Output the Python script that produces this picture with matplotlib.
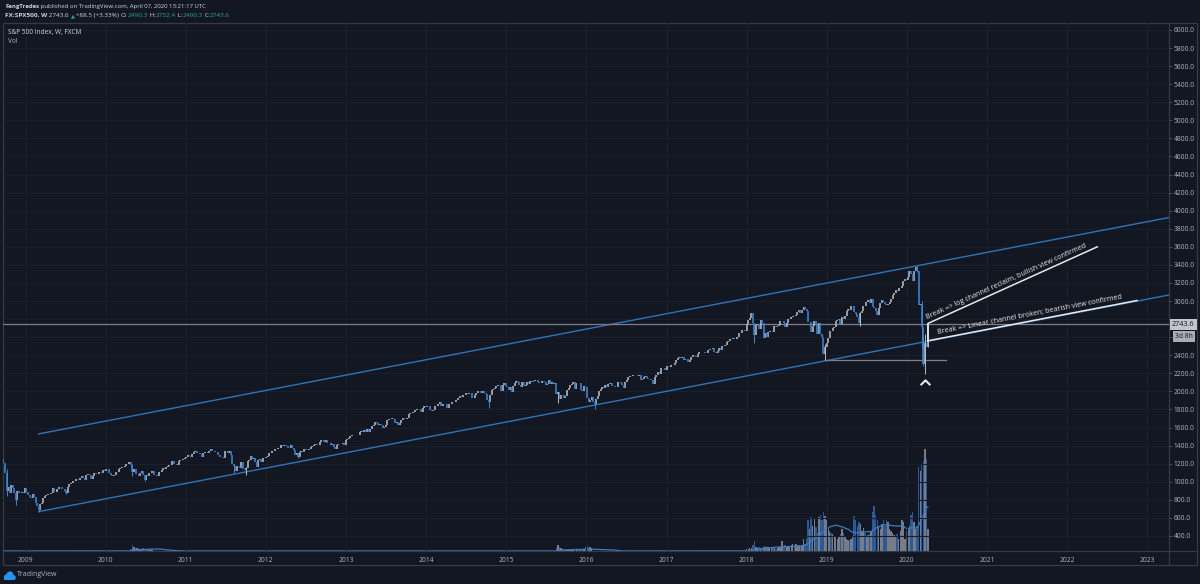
import matplotlib
matplotlib.use('Agg')
import matplotlib.pyplot as plt
import matplotlib.dates as mdates
from matplotlib.patches import Circle, Rectangle
from matplotlib.lines import Line2D
import numpy as np
import pandas as pd

# weekly closes (week ending Fridays), FX:SPX500
first_open = 1255
close_2008 = [1213, 1099, 899, 940, 877, 968, 930, 873, 800, 896, 876, 879, 887, 873]
close_2009 = [931, 890, 850, 832, 826, 869, 827, 770, 735, 683, 756, 768, 816, 842, 856, 869,
              866, 877, 929, 882, 887, 919, 940, 946, 921, 918, 896, 879, 940, 979, 987, 1010,
              1005, 1026, 1029, 1016, 1042, 1068, 1044, 1025, 1071, 1087, 1080, 1036, 1069, 1093,
              1091, 1091, 1106, 1106, 1102, 1126]
close_2010 = [1115, 1145, 1136, 1092, 1074, 1066, 1075, 1109, 1104, 1139, 1150, 1160, 1167, 1179,
              1194, 1192, 1217, 1187, 1111, 1136, 1088, 1089, 1065, 1092, 1117, 1076, 1023, 1078,
              1065, 1102, 1102, 1122, 1079, 1071, 1065, 1105, 1110, 1125, 1149, 1146, 1166, 1176,
              1183, 1183, 1225, 1200, 1199, 1189, 1225, 1240, 1244, 1257, 1258]
close_2011 = [1271, 1293, 1283, 1276, 1310, 1329, 1343, 1320, 1321, 1304, 1279, 1314, 1332, 1328,
              1320, 1337, 1364, 1340, 1338, 1333, 1331, 1300, 1271, 1271, 1268, 1340, 1344, 1316,
              1345, 1292, 1199, 1179, 1123, 1177, 1174, 1154, 1216, 1136, 1131, 1155, 1225, 1238,
              1285, 1253, 1264, 1216, 1159, 1244, 1255, 1219, 1265, 1258]
close_2012 = [1278, 1289, 1315, 1316, 1345, 1343, 1361, 1366, 1370, 1371, 1404, 1397, 1408, 1398,
              1370, 1378, 1403, 1369, 1353, 1295, 1318, 1278, 1325, 1343, 1335, 1362, 1355, 1357,
              1363, 1386, 1391, 1406, 1418, 1411, 1407, 1438, 1466, 1460, 1441, 1460, 1429, 1433,
              1412, 1414, 1380, 1359, 1409, 1416, 1418, 1413, 1430, 1402]
close_2013 = [1466, 1472, 1486, 1503, 1513, 1518, 1520, 1516, 1518, 1551, 1561, 1556, 1569, 1553,
              1588, 1555, 1582, 1614, 1633, 1667, 1650, 1631, 1643, 1626, 1593, 1606, 1632, 1680,
              1692, 1691, 1710, 1691, 1655, 1664, 1633, 1655, 1688, 1710, 1692, 1690, 1703, 1745,
              1760, 1762, 1770, 1798, 1804, 1806, 1805, 1775, 1818, 1841]
close_2014 = [1831, 1842, 1838, 1790, 1783, 1797, 1838, 1836, 1859, 1878, 1841, 1866, 1857, 1865,
              1815, 1864, 1863, 1881, 1878, 1878, 1900, 1924, 1949, 1936, 1963, 1961, 1985, 1968,
              1978, 1978, 1925, 1931, 1955, 1988, 2003, 2007, 1985, 2010, 1983, 1967, 1906, 1887,
              1964, 2018, 2032, 2039, 2064, 2068, 2075, 2003, 2071, 2089]
close_2015 = [2058, 2044, 2019, 2051, 1995, 2055, 2097, 2110, 2105, 2071, 2053, 2108, 2061, 2067,
              2102, 2081, 2117, 2108, 2116, 2123, 2126, 2107, 2092, 2094, 2110, 2101, 2076, 2077,
              2127, 2079, 2104, 2078, 2092, 1971, 1989, 1921, 1961, 1958, 1931, 1951, 2015, 2033,
              2075, 2079, 2099, 2023, 2089, 2090, 2092, 2012, 2006, 2061]
close_2016 = [2044, 1922, 1880, 1907, 1940, 1880, 1865, 1918, 1948, 2000, 2022, 2050, 2035, 2073,
              2048, 2081, 2092, 2065, 2057, 2047, 2053, 2099, 2099, 2096, 2071, 2037, 2103, 2130,
              2162, 2175, 2173, 2183, 2184, 2184, 2169, 2180, 2128, 2139, 2165, 2168, 2153, 2133,
              2141, 2126, 2085, 2164, 2182, 2213, 2192, 2259, 2258, 2263, 2239]
close_2017 = [2277, 2275, 2271, 2295, 2297, 2316, 2351, 2367, 2383, 2373, 2378, 2344, 2363, 2355,
              2329, 2349, 2384, 2399, 2390, 2382, 2416, 2439, 2432, 2433, 2438, 2423, 2425, 2459,
              2472, 2472, 2476, 2441, 2425, 2443, 2477, 2461, 2500, 2502, 2519, 2549, 2553, 2575,
              2581, 2588, 2582, 2579, 2602, 2642, 2651, 2675, 2683, 2674]
close_2018 = [2743, 2786, 2810, 2873, 2762, 2620, 2732, 2747, 2691, 2786, 2752, 2588, 2641, 2604,
              2656, 2670, 2670, 2663, 2728, 2713, 2721, 2735, 2779, 2780, 2755, 2718, 2760, 2801,
              2802, 2819, 2840, 2833, 2850, 2875, 2902, 2872, 2904, 2930, 2914, 2886, 2767, 2768,
              2659, 2723, 2781, 2736, 2633, 2760, 2633, 2600, 2417, 2486]
close_2019 = [2532, 2596, 2671, 2665, 2707, 2708, 2776, 2793, 2804, 2743, 2822, 2801, 2834, 2893,
              2907, 2905, 2940, 2946, 2881, 2860, 2826, 2752, 2873, 2887, 2950, 2942, 2990, 3014,
              2977, 3026, 2932, 2919, 2889, 2847, 2926, 2979, 3007, 2992, 2962, 2952, 2970, 2986,
              3023, 3067, 3093, 3120, 3110, 3141, 3146, 3169, 3221, 3241]
close_2020 = [3235, 3265, 3330, 3295, 3226, 3328, 3380, 3338, 2954, 2972, 2711, 2305, 2541, 2489,
              2743.6]
last_open = 2490.3

# wick extremes of the weeks that stick out (week ending date: low, high)
wicks = {
    '2008-10-10': (839, 1140), '2008-11-21': (741, 900), '2009-03-06': (667, 736),
    '2009-07-10': (869, 905), '2010-05-07': (1066, 1200), '2010-07-02': (1011, 1080),
    '2011-08-12': (1101, 1200), '2011-10-07': (1075, 1160), '2012-06-01': (1267, 1320),
    '2014-10-17': (1821, 1910), '2015-08-28': (1867, 1990), '2016-02-12': (1810, 1882),
    '2018-02-09': (2533, 2720), '2018-12-28': (2346, 2520), '2019-06-07': (2729, 2880),
    '2020-02-21': (3320, 3393), '2020-03-13': (2478, 3000), '2020-03-20': (2280, 2614),
    '2020-03-27': (2192, 2637), '2020-04-10': (2490.3, 2752.4),
}

# volume (relative units), only the weeks where bars are visible
vol_2010_start = '2010-04-30'
vol_2010 = [2, 6, 4, 3, 3, 3, 2, 2, 3, 2, 2, 2, 2, 1, 1]
vol_2015_start = '2015-08-21'
vol_2015 = [3, 6, 4, 3, 2, 2, 1, 1, 1, 1, 1, 1, 1, 1, 1, 1, 1, 1, 2, 4, 5, 3, 4, 3]
vol_recent_start = '2018-01-05'
vol_recent = [2, 2, 3, 3, 6, 10, 4, 3, 4, 3, 3, 5, 4, 5, 4, 3, 3, 3, 3, 2, 3, 4, 4, 10, 5, 6,
              4, 5, 5, 6, 7, 6, 7, 5, 6, 5, 6, 12, 7, 12, 30, 22, 33, 25, 32, 24, 18, 33, 35, 30,
              38, 34,
              30, 24, 20, 18, 17, 15, 14, 12, 15, 17, 22, 18, 15, 12, 11, 10, 12, 14, 34, 30, 25,
              28, 26, 20, 23, 18, 14, 16, 17, 19, 38, 44, 35, 30, 24, 22, 26, 30, 25, 30, 28, 22,
              20, 18, 16, 15, 17, 12, 20, 30, 28, 12,
              20, 22, 25, 35, 38, 28, 22, 25, 82, 78, 85, 88, 100, 90, 22]

# channel and annotation anchors
upper_channel = [('2009-03-02', 1530), ('2023-04-12', 3925)]
lower_channel = [('2009-03-02', 670), ('2023-04-12', 3068)]
linear_break = [('2020-04-06', 2560), ('2022-11-15', 3006)]
log_break = [('2020-04-06', 2560), ('2020-04-06', 2752), ('2022-05-18', 3600)]
support = [('2018-12-24', 2346), ('2020-06-28', 2346)]
last_price = 2743.6
years = list(range(2009, 2024))
price_ticks = list(range(400, 6001, 200))

BG = '#131722'
TXT = '#b2b5be'
HEAD = '#d1d4dc'
GREEN = '#26a69a'
GRID = '#1b1f2c'
FRAME = '#363a45'
UP = '#b8bbc3'
DOWN = '#3a86d8'
CHAN = '#2e74b8'
WHITE = '#e8e9ec'
FONT = ['Open Sans', 'DejaVu Sans']
plt.rcParams['font.family'] = FONT

closes = (close_2008 + close_2009 + close_2010 + close_2011 + close_2012 + close_2013 + close_2014
          + close_2015 + close_2016 + close_2017 + close_2018 + close_2019 + close_2020)
closes = np.array(closes, dtype=float)
opens = np.concatenate([[first_open], closes[:-1]])
opens[-1] = last_open
week_end = pd.date_range('2008-09-26', periods=len(closes), freq='W-FRI')
shift = pd.Timedelta(days=4)  # bars sit on the Monday of the week
weeks = week_end - shift

vol = np.zeros(len(closes))
for start, seg in [(vol_2010_start, vol_2010), (vol_2015_start, vol_2015),
                   (vol_recent_start, vol_recent)]:
    i = week_end.get_loc(pd.Timestamp(start))
    vol[i:i + len(seg)] = seg
vol_ma = pd.Series(vol).rolling(20, min_periods=1).mean()

W, H = 1200, 584
fig = plt.figure(figsize=(12, 5.84), dpi=100, facecolor=BG)


def box(l, t, r, b):
    return [l / W, 1 - b / H, (r - l) / W, (b - t) / H]


ax = fig.add_axes(box(3, 23, 1169, 551))
axv = fig.add_axes(box(3, 23, 1169, 551), sharex=ax)
axv.set_zorder(0)
ax.set_zorder(1)
ax.patch.set_alpha(0)
axv.set_facecolor(BG)

x0, x1 = pd.Timestamp('2008-09-20'), pd.Timestamp('2023-04-10')
ax.set_xlim(x0, x1)
ax.set_ylim(234, 6077)
axv.set_ylim(0, 518)

# volume
up = closes >= opens
vcol = np.where(up, '#8c8f98', '#2f67ad')
axv.bar(weeks, vol, width=6.5, color=vcol, alpha=0.85, linewidth=0)
axv.plot(weeks, vol_ma, color='#3a7cc9', lw=0.9)
axv.axis('off')

# grid
for y in years:
    ax.axvline(pd.Timestamp(f'{y}-01-01'), color=GRID, lw=0.8, zorder=0)
for p in price_ticks:
    ax.axhline(p, color=GRID, lw=0.8, zorder=0)

# candles
lo = np.minimum(opens, closes)
hi = np.maximum(opens, closes)
ax.vlines(weeks[up], lo[up], hi[up], color=UP, lw=1.15, zorder=3)
ax.vlines(weeks[~up], lo[~up], hi[~up], color=DOWN, lw=1.15, zorder=3)
for d, (l, h) in wicks.items():
    i = week_end.get_loc(pd.Timestamp(d))
    ax.vlines(weeks[i], l, h, color=UP if up[i] else DOWN, lw=0.7, zorder=3)

# channels
for line in (upper_channel, lower_channel):
    ax.plot([pd.Timestamp(d) for d, _ in line], [p for _, p in line], color=CHAN, lw=1.0, zorder=2)

ax.axhline(last_price, color='#7c7f88', lw=0.9, zorder=2)
ax.plot([pd.Timestamp(d) for d, _ in support], [p for _, p in support], color='#7c7f88', lw=0.9,
        zorder=2)
for line in (linear_break, log_break):
    ax.plot([pd.Timestamp(d) for d, _ in line], [p for _, p in line], color=WHITE, lw=1.1, zorder=4)


def angle(a, b):
    pa = ax.transData.transform((mdates.date2num(pd.Timestamp(a[0])), a[1]))
    pb = ax.transData.transform((mdates.date2num(pd.Timestamp(b[0])), b[1]))
    return np.degrees(np.arctan2(pb[1] - pa[1], pb[0] - pa[0]))


def mid(a, b, f):
    ta, tb = pd.Timestamp(a[0]), pd.Timestamp(b[0])
    return ta + (tb - ta) * f, a[1] + (b[1] - a[1]) * f


d, p = mid(log_break[1], log_break[2], 0.47)
ax.annotate('Break => log channel reclaim, bullish view confirmed', xy=(d, p), xytext=(0, 2),
            textcoords='offset points', rotation=angle(log_break[1], log_break[2]),
            rotation_mode='anchor', ha='center', va='bottom', color=WHITE, fontsize=5.1, zorder=5)
d, p = mid(linear_break[0], linear_break[1], 0.49)
ax.annotate('Break => Linear channel broken; bearish view confirmed', xy=(d, p), xytext=(0, 2),
            textcoords='offset points', rotation=angle(linear_break[0], linear_break[1]),
            rotation_mode='anchor', ha='center', va='bottom', color=WHITE, fontsize=5.1, zorder=5)

# caret under the low
ax.plot(pd.Timestamp('2020-03-25'), 2100, marker=[(-1, -0.55), (0, 0.45), (1, -0.55)],
        markersize=7, mfc='none', mec=WHITE, mew=1.5, zorder=5)

# axes, ticks (2600/2800 sit under the price label boxes)
for s in ax.spines.values():
    s.set_visible(False)
ax.yaxis.tick_right()
ax.set_yticks(price_ticks)
ax.set_yticklabels(['' if p in (2600, 2800) else f'{p:.1f}' for p in price_ticks])
ax.set_xticks([pd.Timestamp(f'{y}-01-01') for y in years])
ax.set_xticklabels([str(y) for y in years])
ax.tick_params(axis='y', colors=TXT, labelsize=4.8, length=2, width=0.6, pad=1.2)
ax.tick_params(axis='y', color='#50535e')
ax.tick_params(axis='x', colors=TXT, labelsize=4.9, length=0, pad=4)

# price label on the axis
ax.annotate(f'{last_price:.1f}', xy=(1, last_price), xycoords=('axes fraction', 'data'),
            xytext=(2.2, 0), textcoords='offset points', ha='left', va='center', fontsize=5.2,
            color='#131722', bbox=dict(boxstyle='square,pad=0.3', fc='#c3c5cb', ec='none'),
            zorder=10, annotation_clip=False)
ax.annotate('3d 8h', xy=(1, last_price), xycoords=('axes fraction', 'data'),
            xytext=(4.2, -8.5), textcoords='offset points', ha='left', va='center', fontsize=4.8,
            color='#131722', bbox=dict(boxstyle='square,pad=0.3', fc='#a9acb3', ec='none'),
            zorder=10, annotation_clip=False)

# frame
fr = fig.add_axes([0, 0, 1, 1], zorder=-1)
fr.set_xlim(0, W)
fr.set_ylim(H, 0)
fr.axis('off')
fr.add_patch(Rectangle((3, 22.5), 1194, 542.5, fill=False, ec=FRAME, lw=0.9))
fr.add_line(Line2D([1169, 1169], [22.5, 565], color=FRAME, lw=0.9))
fr.add_line(Line2D([3, 1197], [551, 551], color=FRAME, lw=0.9))

# logo
lg = fig.add_axes([0, 0, 1, 1], zorder=5)
lg.set_xlim(0, W)
lg.set_ylim(H, 0)
lg.axis('off')
for cx, cy, r in [(6.5, 577, 2.6), (10, 575, 3.6), (13.5, 577.5, 2.3)]:
    lg.add_patch(Circle((cx, cy), r, color='#2196f3', lw=0))
lg.add_patch(Rectangle((4, 577), 11, 3, color='#2196f3', lw=0))
lg.text(17, 575, 'TradingView', color=TXT, fontsize=5.0, va='center', ha='left')

# header
t = fig.text(5 / W, 1 - 8 / H, 'FangTrades', color=HEAD, fontsize=4.3, weight='bold',
             va='baseline')
ax.annotate(' published on TradingView.com, April 07, 2020 13:21:17 UTC', xy=(1, 0), xycoords=t,
            va='bottom', ha='left', color=HEAD, fontsize=4.3, annotation_clip=False)
parts = [(' 2743.6 ', HEAD), ('▲', GREEN), (' +88.5 (+3.33%) ', HEAD), ('O:', HEAD),
         ('2490.3', GREEN), (' H:', HEAD), ('2752.4', GREEN), (' L:', HEAD), ('2490.3', GREEN),
         (' C:', HEAD), ('2743.6', GREEN)]
prev = fig.text(5 / W, 1 - 17 / H, 'FX:SPX500, W', color=HEAD, fontsize=4.6, weight='bold',
                va='baseline')
for s, c in parts:
    prev = ax.annotate(s, xy=(1, 0), xycoords=prev, va='bottom', ha='left', color=c,
                       fontsize=4.6 if s != '▲' else 3.8, annotation_clip=False)

fig.text(8 / W, 1 - 34 / H, 'S&P 500 Index, W, FXCM', color=HEAD, fontsize=4.7, va='baseline')
fig.text(8 / W, 1 - 43 / H, 'Vol', color=TXT, fontsize=4.7, va='baseline')

fig.savefig('out.png', dpi=100, facecolor=BG)
